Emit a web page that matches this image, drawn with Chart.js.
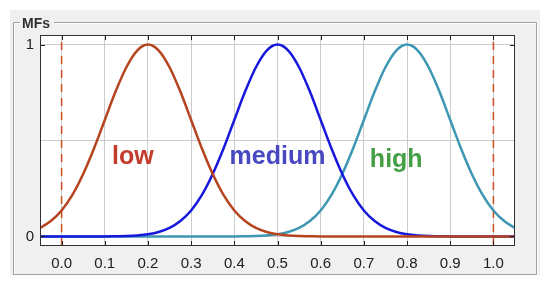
<!DOCTYPE html>
<html>
<head>
<meta charset="utf-8">
<script src="https://cdn.jsdelivr.net/npm/chart.js@4/dist/chart.umd.min.js"></script>
<style>
html,body{margin:0;padding:0;background:#ffffff;}
#wrap{width:550px;height:284px;position:relative;}
</style>
</head>
<body>
<div id="wrap"><canvas id="c" width="550" height="284"></canvas></div>
<script>
// ---- data ----
const xValues = [-0.05,-0.025,0,0.025,0.05,0.075,0.1,0.125,0.15,0.175,0.2,0.225,0.25,0.275,0.3,0.325,0.35,0.375,0.4,0.425,0.45,0.475,0.5,0.525,0.55,0.575,0.6,0.625,0.65,0.675,0.7,0.725,0.75,0.775,0.8,0.825,0.85,0.875,0.9,0.925,0.95,0.975,1.0,1.025,1.05];
const lowMF = [0.044,0.080,0.135,0.216,0.325,0.458,0.607,0.755,0.882,0.969,1,0.969,0.882,0.755,0.607,0.458,0.325,0.216,0.135,0.080,0.044,0.023,0.011,0.005,0.002,0.001,0,0,0,0,0,0,0,0,0,0,0,0,0,0,0,0,0,0,0];
const mediumMF = [0,0,0,0,0,0,0,0.001,0.002,0.005,0.011,0.023,0.044,0.080,0.135,0.216,0.325,0.458,0.607,0.755,0.882,0.969,1,0.969,0.882,0.755,0.607,0.458,0.325,0.216,0.135,0.080,0.044,0.023,0.011,0.005,0.002,0.001,0,0,0,0,0,0,0];
const highMF = [0,0,0,0,0,0,0,0,0,0,0,0,0,0,0,0,0,0,0,0.001,0.002,0.005,0.011,0.023,0.044,0.080,0.135,0.216,0.325,0.458,0.607,0.755,0.882,0.969,1,0.969,0.882,0.755,0.607,0.458,0.325,0.216,0.135,0.080,0.044];
const rangeLimits = [0, 1];
const xTicks = [0,0.1,0.2,0.3,0.4,0.5,0.6,0.7,0.8,0.9,1.0];
const yTicks = [0, 0.5, 1];
const yTickLabels = ['0', '', '1'];
const mfNames = ['low', 'medium', 'high'];
const mfLabelPos = [[0.165, 0.415], [0.5, 0.415], [0.775, 0.40]];

const curveColors = ['#b5441e', '#1818dc', '#3d97b3'];
const textColors = ['#c23b2c', '#4848c2', '#45a045'];

function pts(ys){ return xValues.map((x,i)=>({x:x, y:ys[i]})); }

const frame = {
  id: 'frame',
  beforeDraw(chart){
    const ctx = chart.ctx;
    ctx.save();
    ctx.fillStyle = '#f0f0f0';
    ctx.fillRect(10, 10, 530, 266);
    ctx.lineWidth = 1;
    const drawBox = (off, col) => {
      ctx.strokeStyle = col;
      ctx.beginPath();
      ctx.moveTo(20+off, 22.5+off); ctx.lineTo(13.5+off, 22.5+off); ctx.lineTo(13.5+off, 274.5+off);
      ctx.lineTo(536.5+off, 274.5+off); ctx.lineTo(536.5+off, 22.5+off); ctx.lineTo(54+off, 22.5+off);
      ctx.stroke();
    };
    drawBox(1, '#ffffff');
    drawBox(0, '#a0a0a0');
    ctx.fillStyle = '#303030';
    ctx.font = 'bold 14px "Liberation Sans", Arial, sans-serif';
    ctx.textBaseline = 'alphabetic';
    ctx.fillText('MFs', 22, 28);
    const a = chart.chartArea;
    ctx.fillStyle = '#ffffff';
    ctx.fillRect(a.left, a.top, a.right - a.left, a.bottom - a.top);
    ctx.restore();
  },
  afterDraw(chart){
    const ctx = chart.ctx, a = chart.chartArea;
    const xs = chart.scales.x, ys = chart.scales.y;
    ctx.save();
    ctx.font = 'bold 25px "Liberation Sans", Arial, sans-serif';
    ctx.textAlign = 'center';
    ctx.textBaseline = 'middle';
    mfNames.forEach((n,i)=>{
      ctx.fillStyle = textColors[i];
      ctx.fillText(n, xs.getPixelForValue(mfLabelPos[i][0]), ys.getPixelForValue(mfLabelPos[i][1]));
    });
    ctx.strokeStyle = '#202020';
    ctx.lineWidth = 1;
    ctx.beginPath();
    xTicks.forEach(v=>{
      const px = Math.round(xs.getPixelForValue(v)) + 0.5;
      ctx.moveTo(px, a.bottom); ctx.lineTo(px, a.bottom - 5);
      ctx.moveTo(px, a.top); ctx.lineTo(px, a.top + 5);
    });
    [0,1].forEach(v=>{
      const py = Math.round(ys.getPixelForValue(v)) + 0.5;
      ctx.moveTo(a.left, py); ctx.lineTo(a.left + 5, py);
      ctx.moveTo(a.right, py); ctx.lineTo(a.right - 5, py);
    });
    ctx.stroke();
    ctx.strokeStyle = '#303030';
    ctx.strokeRect(Math.round(a.left)+0.5, Math.round(a.top)+0.5, Math.round(a.right-a.left)-1, Math.round(a.bottom-a.top)-1);
    ctx.restore();
  }
};

new Chart(document.getElementById('c'), {
  type: 'line',
  data: {
    datasets: [
      {label: mfNames[0], data: pts(lowMF), borderColor: curveColors[0], borderWidth: 2.5, pointRadius: 0, cubicInterpolationMode: 'monotone', fill: false},
      {label: mfNames[1], data: pts(mediumMF), borderColor: curveColors[1], borderWidth: 2.5, pointRadius: 0, cubicInterpolationMode: 'monotone', fill: false},
      {label: mfNames[2], data: pts(highMF), borderColor: curveColors[2], borderWidth: 2.5, pointRadius: 0, cubicInterpolationMode: 'monotone', fill: false},
      {label: 'min', data: [{x: rangeLimits[0], y: -0.05}, {x: rangeLimits[0], y: 1.05}], borderColor: '#c8501e', borderWidth: 1.5, borderDash: [8,6], pointRadius: 0, fill: false},
      {label: 'max', data: [{x: rangeLimits[1], y: -0.05}, {x: rangeLimits[1], y: 1.05}], borderColor: '#c8501e', borderWidth: 1.5, borderDash: [8,6], pointRadius: 0, fill: false}
    ]
  },
  options: {
    responsive: false,
    animation: false,
    events: [],
    layout: {padding: {left: 0, top: 35, right: 35, bottom: 0}},
    plugins: {legend: {display: false}, tooltip: {enabled: false}},
    scales: {
      x: {
        type: 'linear', min: -0.05, max: 1.05,
        afterBuildTicks(s){ s.ticks = xTicks.map(v=>({value: v})); },
        afterFit(s){ s.height = 38; },
        grid: {color: '#cccccc', lineWidth: 1, drawTicks: false},
        border: {display: false},
        ticks: {padding: 9, color: '#202020', font: {family: '"Liberation Sans", Arial, sans-serif', size: 15},
                callback: (v) => Number(v).toFixed(1), maxRotation: 0, autoSkip: false}
      },
      y: {
        type: 'linear', min: -0.05, max: 1.05,
        afterBuildTicks(s){ s.ticks = yTicks.map(v=>({value: v})); },
        afterFit(s){ s.width = 40; },
        grid: {color: '#cccccc', lineWidth: 1, drawTicks: false},
        border: {display: false},
        ticks: {padding: 6, color: '#202020', font: {family: '"Liberation Sans", Arial, sans-serif', size: 15},
                callback: (v) => yTickLabels[yTicks.indexOf(v)] ?? ''}
      }
    }
  },
  plugins: [frame]
});
</script>
</body>
</html>
